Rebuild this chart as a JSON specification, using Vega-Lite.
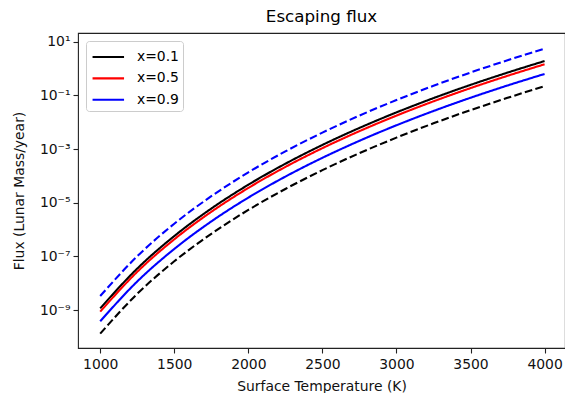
{
  "$schema": "https://vega.github.io/schema/vega-lite/v6.json",
  "autosize": "none",
  "width": 487,
  "height": 315,
  "padding": {"left": 78, "top": 33, "right": 0, "bottom": 45},
  "background": "white",
  "title": {"text": "Escaping flux", "fontSize": 16.7, "font": "DejaVu Sans", "fontWeight": "normal", "color": "#000", "offset": 7, "anchor": "middle"},
  "config": {
    "font": "DejaVu Sans",
    "view": {"stroke": "#222", "strokeWidth": 1.1},
    "axis": {"grid": false, "domain": false, "tickColor": "#222", "tickSize": 5, "tickWidth": 1.1, "labelFontSize": 13.9, "titleFontSize": 13.9, "labelColor": "#111", "titleColor": "#111", "titleFontWeight": "normal", "labelFont": "DejaVu Sans", "titleFont": "DejaVu Sans"}
  },
  "data": {"values": [
    {"T": 1000, "flux": 1.148e-9, "x": "x=0.1", "series": "a", "dash": "solid"},
    {"T": 1250, "flux": 3.50e-8, "x": "x=0.1", "series": "a", "dash": "solid"},
    {"T": 1500, "flux": 5.70e-7, "x": "x=0.1", "series": "a", "dash": "solid"},
    {"T": 1750, "flux": 6.04e-6, "x": "x=0.1", "series": "a", "dash": "solid"},
    {"T": 2000, "flux": 4.67e-5, "x": "x=0.1", "series": "a", "dash": "solid"},
    {"T": 2250, "flux": 2.83e-4, "x": "x=0.1", "series": "a", "dash": "solid"},
    {"T": 2500, "flux": 1.419e-3, "x": "x=0.1", "series": "a", "dash": "solid"},
    {"T": 2750, "flux": 6.11e-3, "x": "x=0.1", "series": "a", "dash": "solid"},
    {"T": 3000, "flux": 2.317e-2, "x": "x=0.1", "series": "a", "dash": "solid"},
    {"T": 3250, "flux": 7.89e-2, "x": "x=0.1", "series": "a", "dash": "solid"},
    {"T": 3500, "flux": 0.2455, "x": "x=0.1", "series": "a", "dash": "solid"},
    {"T": 3750, "flux": 0.705, "x": "x=0.1", "series": "a", "dash": "solid"},
    {"T": 4000, "flux": 1.897, "x": "x=0.1", "series": "a", "dash": "solid"},

    {"T": 1000, "flux": 8.71e-10, "x": "x=0.5", "series": "b", "dash": "solid"},
    {"T": 1250, "flux": 2.655e-8, "x": "x=0.5", "series": "b", "dash": "solid"},
    {"T": 1500, "flux": 4.32e-7, "x": "x=0.5", "series": "b", "dash": "solid"},
    {"T": 1750, "flux": 4.58e-6, "x": "x=0.5", "series": "b", "dash": "solid"},
    {"T": 2000, "flux": 3.54e-5, "x": "x=0.5", "series": "b", "dash": "solid"},
    {"T": 2250, "flux": 2.147e-4, "x": "x=0.5", "series": "b", "dash": "solid"},
    {"T": 2500, "flux": 1.076e-3, "x": "x=0.5", "series": "b", "dash": "solid"},
    {"T": 2750, "flux": 4.635e-3, "x": "x=0.5", "series": "b", "dash": "solid"},
    {"T": 3000, "flux": 1.758e-2, "x": "x=0.5", "series": "b", "dash": "solid"},
    {"T": 3250, "flux": 5.99e-2, "x": "x=0.5", "series": "b", "dash": "solid"},
    {"T": 3500, "flux": 0.1862, "x": "x=0.5", "series": "b", "dash": "solid"},
    {"T": 3750, "flux": 0.535, "x": "x=0.5", "series": "b", "dash": "solid"},
    {"T": 4000, "flux": 1.439, "x": "x=0.5", "series": "b", "dash": "solid"},

    {"T": 1000, "flux": 3.80e-10, "x": "x=0.9", "series": "c", "dash": "solid"},
    {"T": 1250, "flux": 1.159e-8, "x": "x=0.9", "series": "c", "dash": "solid"},
    {"T": 1500, "flux": 1.887e-7, "x": "x=0.9", "series": "c", "dash": "solid"},
    {"T": 1750, "flux": 2.000e-6, "x": "x=0.9", "series": "c", "dash": "solid"},
    {"T": 2000, "flux": 1.546e-5, "x": "x=0.9", "series": "c", "dash": "solid"},
    {"T": 2250, "flux": 9.37e-5, "x": "x=0.9", "series": "c", "dash": "solid"},
    {"T": 2500, "flux": 4.70e-4, "x": "x=0.9", "series": "c", "dash": "solid"},
    {"T": 2750, "flux": 2.023e-3, "x": "x=0.9", "series": "c", "dash": "solid"},
    {"T": 3000, "flux": 7.67e-3, "x": "x=0.9", "series": "c", "dash": "solid"},
    {"T": 3250, "flux": 2.612e-2, "x": "x=0.9", "series": "c", "dash": "solid"},
    {"T": 3500, "flux": 8.13e-2, "x": "x=0.9", "series": "c", "dash": "solid"},
    {"T": 3750, "flux": 0.2334, "x": "x=0.9", "series": "c", "dash": "solid"},
    {"T": 4000, "flux": 0.628, "x": "x=0.9", "series": "c", "dash": "solid"},

    {"T": 1000, "flux": 3.31e-9, "x": "x=0.9", "series": "d", "dash": "dashed"},
    {"T": 1250, "flux": 1.009e-7, "x": "x=0.9", "series": "d", "dash": "dashed"},
    {"T": 1500, "flux": 1.644e-6, "x": "x=0.9", "series": "d", "dash": "dashed"},
    {"T": 1750, "flux": 1.742e-5, "x": "x=0.9", "series": "d", "dash": "dashed"},
    {"T": 2000, "flux": 1.347e-4, "x": "x=0.9", "series": "d", "dash": "dashed"},
    {"T": 2250, "flux": 8.16e-4, "x": "x=0.9", "series": "d", "dash": "dashed"},
    {"T": 2500, "flux": 4.09e-3, "x": "x=0.9", "series": "d", "dash": "dashed"},
    {"T": 2750, "flux": 1.762e-2, "x": "x=0.9", "series": "d", "dash": "dashed"},
    {"T": 3000, "flux": 6.68e-2, "x": "x=0.9", "series": "d", "dash": "dashed"},
    {"T": 3250, "flux": 0.2275, "x": "x=0.9", "series": "d", "dash": "dashed"},
    {"T": 3500, "flux": 0.708, "x": "x=0.9", "series": "d", "dash": "dashed"},
    {"T": 3750, "flux": 2.033, "x": "x=0.9", "series": "d", "dash": "dashed"},
    {"T": 4000, "flux": 5.47, "x": "x=0.9", "series": "d", "dash": "dashed"},

    {"T": 1000, "flux": 1.318e-10, "x": "x=0.1", "series": "e", "dash": "dashed"},
    {"T": 1250, "flux": 4.02e-9, "x": "x=0.1", "series": "e", "dash": "dashed"},
    {"T": 1500, "flux": 6.54e-8, "x": "x=0.1", "series": "e", "dash": "dashed"},
    {"T": 1750, "flux": 6.93e-7, "x": "x=0.1", "series": "e", "dash": "dashed"},
    {"T": 2000, "flux": 5.36e-6, "x": "x=0.1", "series": "e", "dash": "dashed"},
    {"T": 2250, "flux": 3.25e-5, "x": "x=0.1", "series": "e", "dash": "dashed"},
    {"T": 2500, "flux": 1.629e-4, "x": "x=0.1", "series": "e", "dash": "dashed"},
    {"T": 2750, "flux": 7.01e-4, "x": "x=0.1", "series": "e", "dash": "dashed"},
    {"T": 3000, "flux": 2.66e-3, "x": "x=0.1", "series": "e", "dash": "dashed"},
    {"T": 3250, "flux": 9.06e-3, "x": "x=0.1", "series": "e", "dash": "dashed"},
    {"T": 3500, "flux": 2.818e-2, "x": "x=0.1", "series": "e", "dash": "dashed"},
    {"T": 3750, "flux": 8.09e-2, "x": "x=0.1", "series": "e", "dash": "dashed"},
    {"T": 4000, "flux": 0.2178, "x": "x=0.1", "series": "e", "dash": "dashed"}
  ]},
  "mark": {"type": "line", "strokeWidth": 2.1, "interpolate": "monotone", "clip": true},
  "encoding": {
    "x": {"field": "T", "type": "quantitative", "scale": {"domain": [850, 4138], "nice": false, "zero": false},
      "axis": {"title": "Surface Temperature (K)", "values": [1000, 1500, 2000, 2500, 3000, 3500, 4000], "labelPadding": 4, "titlePadding": 9, "format": "d", "labelFlush": false}},
    "y": {"field": "flux", "type": "quantitative", "scale": {"type": "log", "domain": [3.84e-11, 21.09], "nice": false},
      "axis": {"title": "Flux (Lunar Mass/year)", "values": [10, 0.1, 0.001, 1e-5, 1e-7, 1e-9], "labelPadding": 3, "titlePadding": 13,
        "labelExpr": "datum.value >= 1 ? '10¹' : datum.value >= 0.01 ? '10⁻¹' : datum.value >= 1e-4 ? '10⁻³' : datum.value >= 1e-6 ? '10⁻⁵' : datum.value >= 1e-8 ? '10⁻⁷' : '10⁻⁹'"}},
    "color": {"field": "x", "type": "nominal", "scale": {"domain": ["x=0.1", "x=0.5", "x=0.9"], "range": ["#000000", "#ff0000", "#0000ff"]},
      "legend": {"title": null, "orient": "top-left", "offset": 8, "symbolType": "M-0.9,0H2.1", "symbolSize": 441, "symbolStrokeWidth": 2.1, "labelFontSize": 13.9, "labelColor": "#000", "labelOffset": 23, "strokeColor": "#cccccc", "fillColor": "white", "cornerRadius": 3, "padding": 4, "rowPadding": 2.4, "symbolDash": [1, 0]}},
    "strokeDash": {"field": "dash", "type": "nominal", "scale": {"domain": ["solid", "dashed"], "range": [[1, 0], [7.7, 3.3]]}, "legend": null},
    "detail": {"field": "series"}
  }
}
